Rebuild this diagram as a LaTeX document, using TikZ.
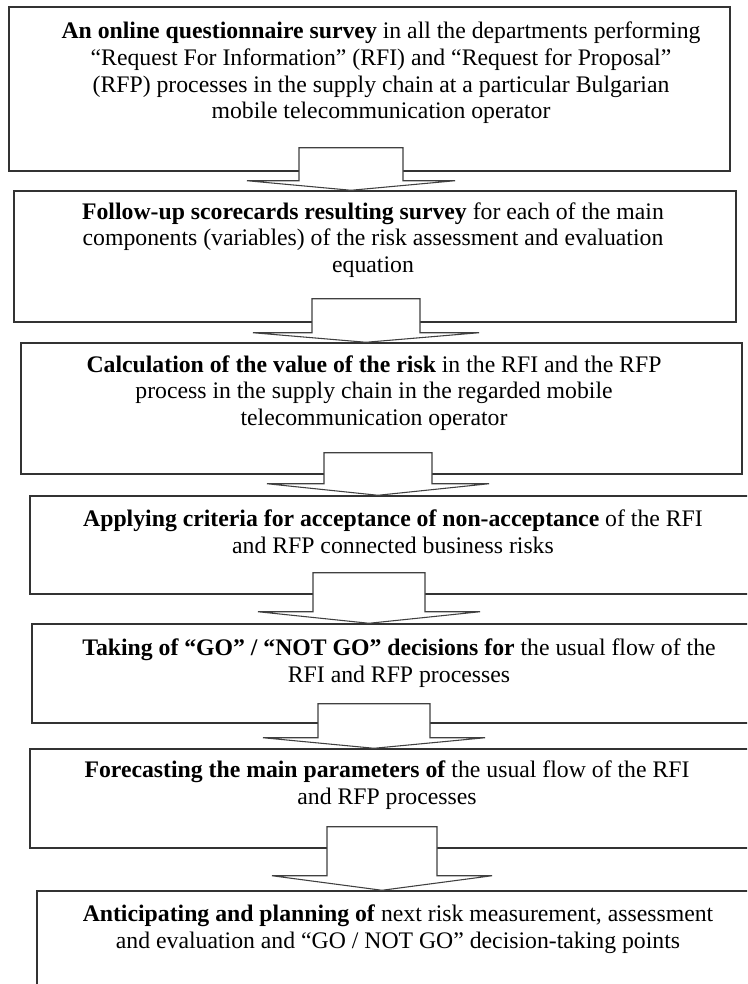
\documentclass[tikz,border=0pt]{standalone}
\usepackage{fontspec}
\setmainfont{Liberation Serif}
\usetikzlibrary{positioning,fit}

\begin{document}
\begin{tikzpicture}[x=0.75pt,y=-0.75pt]

    %
    % Styles for stage boxes, texts and block arrows
    %
    \tikzstyle{stage} = [draw=black!80, line width=1.1pt, rectangle, inner sep=0pt];
    \tikzstyle{note} = [align=center, inner sep=0pt, font={\fontsize{17.8}{20}\selectfont}];
    \tikzstyle{flow} = [draw=black!75, line width=0.8pt, fill=white, line join=miter];

    \clip (0,0) rectangle (747,984);
    \fill[white] (0,0) rectangle (747,984);

    %
    % Position boxes
    %
    \node[stage, fit={(9,7) (730,171)}, name=b1] {};
    \node[stage, fit={(14,191) (736,322)}, name=b2] {};
    \node[stage, fit={(21,343) (742,474)}, name=b3] {};
    \node[stage, fit={(30,496) (760,594)}, name=b4] {};
    \node[stage, fit={(32,624) (760,723)}, name=b5] {};
    \node[stage, fit={(30,749) (760,848)}, name=b6] {};
    \node[stage, fit={(37,891) (760,1010)}, name=b7] {};

    %
    % Texts of the boxes
    %
    \node[note, name=t1] at (381,73) {\textbf{An online questionnaire survey} in all the departments performing\\
      “Request For Information” (RFI) and “Request for Proposal”\\
      (RFP) processes in the supply chain at a particular Bulgarian\\
      mobile telecommunication operator};
    \node[note, name=t2] at (373,240) {\textbf{Follow-up scorecards resulting survey} for each of the main\\
      components (variables) of the risk assessment and evaluation\\
      equation};
    \node[note, name=t3] at (374,393) {\textbf{Calculation of the value of the risk} in the RFI and the RFP\\
      process in the supply chain in the regarded mobile\\
      telecommunication operator};
    \node[note, name=t4] at (393,532) {\textbf{Applying criteria for acceptance of non-acceptance} of the RFI\\
      and RFP connected business risks};
    \node[note, name=t5] at (399,663) {\textbf{Taking of “GO” / “NOT GO” decisions for} the usual flow of the\\
      RFI and RFP processes};
    \node[note, name=t6] at (387,785) {\textbf{Forecasting the main parameters of} the usual flow of the RFI\\
      and RFP processes};
    \node[note, name=t7] at (398,929) {\textbf{Anticipating and planning of} next risk measurement, assessment\\
      and evaluation and “GO / NOT GO” decision-taking points};

    %
    % Connect boxes via block arrows
    %
    \coordinate (a1) at (351,0 |- b1.south);
    \draw[flow] ([shift={(-52,-24)}]a1) |- ([shift={(-104,9)}]a1) -- (a1 |- b2.north)
      -- ([shift={(104,9)}]a1) -| ([shift={(52,-24)}]a1) -- cycle;
    \coordinate (a2) at (366,0 |- b2.south);
    \draw[flow] ([shift={(-54,-24)}]a2) |- ([shift={(-113,10)}]a2) -- (a2 |- b3.north)
      -- ([shift={(113,10)}]a2) -| ([shift={(54,-24)}]a2) -- cycle;
    \coordinate (a3) at (378,0 |- b3.south);
    \draw[flow] ([shift={(-54,-22)}]a3) |- ([shift={(-111,9)}]a3) -- (a3 |- b4.north)
      -- ([shift={(111,9)}]a3) -| ([shift={(54,-22)}]a3) -- cycle;
    \coordinate (a4) at (369,0 |- b4.south);
    \draw[flow] ([shift={(-56,-22)}]a4) |- ([shift={(-111,17)}]a4) -- (a4 |- b5.north)
      -- ([shift={(111,17)}]a4) -| ([shift={(56,-22)}]a4) -- cycle;
    \coordinate (a5) at (374,0 |- b5.south);
    \draw[flow] ([shift={(-56,-20)}]a5) |- ([shift={(-111,14)}]a5) -- (a5 |- b6.north)
      -- ([shift={(111,14)}]a5) -| ([shift={(56,-20)}]a5) -- cycle;
    \coordinate (a6) at (382,0 |- b6.south);
    \draw[flow] ([shift={(-55,-22)}]a6) |- ([shift={(-110,27)}]a6) -- (a6 |- b7.north)
      -- ([shift={(110,27)}]a6) -| ([shift={(55,-22)}]a6) -- cycle;
  \end{tikzpicture}
\end{document}
